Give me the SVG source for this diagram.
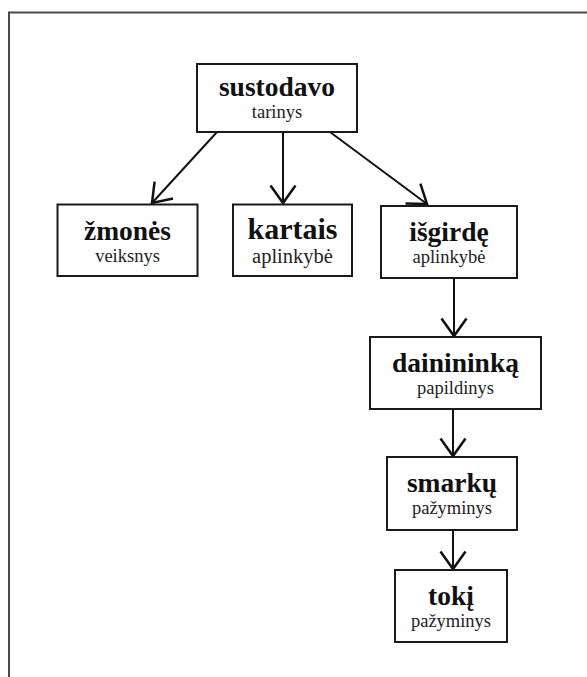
<svg xmlns="http://www.w3.org/2000/svg" width="587" height="677" viewBox="0 0 587 677">
  <style>
    .frame { fill: none; stroke: #4a4a4a; stroke-width: 2; }
    .box { fill: #ffffff; stroke: #1a1a1a; stroke-width: 2; }
    .word { font-family: "Liberation Serif", "Times New Roman", serif; font-weight: bold; font-size: 27.5px; fill: #111; text-anchor: middle; }
    .role { font-family: "Liberation Serif", "Times New Roman", serif; font-size: 18.5px; fill: #222; text-anchor: middle; }
    .big .word { font-size: 30px; }
    .big .role { font-size: 20.5px; }
    .edge { fill: none; stroke: #111; stroke-width: 2; marker-end: url(#head); }
  </style>
  <defs>
    <marker id="head" markerUnits="userSpaceOnUse" markerWidth="30" markerHeight="30" refX="0" refY="0" viewBox="-16 -12 18 24" orient="auto" overflow="visible">
      <path d="M-14,-10 L0,0 L-14,10" fill="none" stroke="#111" stroke-width="2"/>
    </marker>
  </defs>

  <rect width="587" height="677" fill="#ffffff"/>
  <!-- page frame: only top and left edges are visible -->
  <path class="frame" d="M9,677 V12.5 H587"/>

  <g id="connectors">
    <line class="edge" x1="217" y1="132" x2="152" y2="203"/>
    <line class="edge" x1="283" y1="132" x2="283" y2="203"/>
    <line class="edge" x1="330" y1="132" x2="427" y2="204"/>
    <line class="edge" x1="454" y1="278" x2="454" y2="336"/>
    <line class="edge" x1="453" y1="409" x2="453" y2="456"/>
    <line class="edge" x1="453" y1="530" x2="453" y2="569"/>
  </g>

  <g id="sustodavo">
    <rect class="box" x="197" y="64" width="160" height="68"/>
    <text class="word" x="277" y="96">sustodavo</text>
    <text class="role" x="277" y="118">tarinys</text>
  </g>
  <g id="zmones">
    <rect class="box" x="57.5" y="204.5" width="140" height="71.5"/>
    <text class="word" x="127.5" y="240">žmonės</text>
    <text class="role" x="127.5" y="262">veiksnys</text>
  </g>
  <g id="kartais" class="big">
    <rect class="box" x="233" y="204.5" width="119" height="71.5"/>
    <text class="word" x="292.5" y="239">kartais</text>
    <text class="role" x="292.5" y="263">aplinkybė</text>
  </g>
  <g id="isgirde">
    <rect class="box" x="381" y="206" width="136" height="72"/>
    <text class="word" x="449" y="241">išgirdę</text>
    <text class="role" x="449" y="263">aplinkybė</text>
  </g>
  <g id="dainininka">
    <rect class="box" x="370" y="337" width="171" height="72"/>
    <text class="word" x="455.5" y="372">dainininką</text>
    <text class="role" x="455.5" y="394">papildinys</text>
  </g>
  <g id="smarku">
    <rect class="box" x="387" y="457" width="130" height="73"/>
    <text class="word" x="452" y="492">smarkų</text>
    <text class="role" x="452" y="514">pažyminys</text>
  </g>
  <g id="toki">
    <rect class="box" x="395" y="570" width="112" height="72"/>
    <text class="word" x="451" y="605">tokį</text>
    <text class="role" x="451" y="627">pažyminys</text>
  </g>
</svg>
